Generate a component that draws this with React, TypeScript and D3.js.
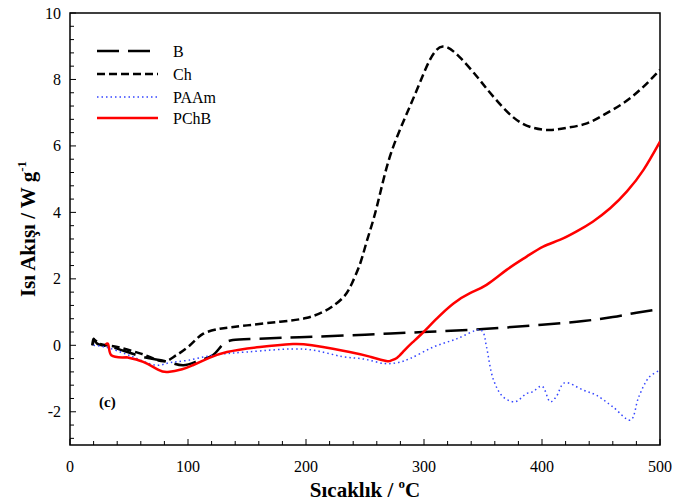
import React from "react";
import * as d3 from "d3";

const seriesNames = ["B", "Ch", "PAAm", "PChB"];

const bX = [19, 20, 23, 35, 62, 80, 96, 110, 121, 131, 138, 160, 200, 250, 299, 350, 400, 435, 460, 480, 500];
const bY = [0.0, 0.2, 0.05, -0.05, -0.35, -0.47, -0.6, -0.45, -0.3, 0.07, 0.16, 0.2, 0.25, 0.32, 0.4, 0.49, 0.62, 0.73, 0.85, 0.98, 1.09];

const chX = [19, 21, 25, 40, 60, 80, 90, 100, 113, 127, 150, 178, 200, 214, 222, 232, 239, 246, 251, 257, 263, 271, 282, 294, 305, 316, 330, 345, 356, 375, 392, 407, 422, 438, 453, 469, 485, 500];
const chY = [0.0, 0.15, 0.05, -0.05, -0.25, -0.48, -0.3, -0.05, 0.35, 0.5, 0.6, 0.71, 0.82, 1.0, 1.16, 1.46, 1.87, 2.47, 3.07, 3.77, 4.6, 5.67, 6.69, 7.69, 8.59, 8.99, 8.68, 8.08, 7.6, 6.88, 6.55, 6.48, 6.55, 6.68, 6.95, 7.29, 7.75, 8.29];

const paX = [20, 30, 50, 73, 85, 100, 121, 150, 200, 231, 250, 267, 278, 288, 308, 328, 347, 350, 353, 359, 367, 377, 387, 392, 400, 407, 412, 419, 435, 446, 460, 475, 482, 491, 500];
const paY = [0.0, -0.05, -0.3, -0.6, -0.52, -0.45, -0.3, -0.2, -0.12, -0.34, -0.42, -0.55, -0.52, -0.4, -0.05, 0.2, 0.47, 0.4, -0.05, -1.05, -1.55, -1.7, -1.45, -1.4, -1.23, -1.7, -1.55, -1.13, -1.35, -1.5, -1.85, -2.25, -1.55, -0.95, -0.75];

const pcX = [30, 32, 35, 48, 62, 75, 83, 95, 104, 118, 133, 161, 189, 205, 237, 255, 268, 272, 277, 283, 290, 297, 311, 325, 339, 353, 370, 387, 401, 415, 429, 443, 458, 472, 486, 500];
const pcY = [0.02, 0.05, -0.3, -0.36, -0.5, -0.74, -0.8, -0.72, -0.6, -0.38, -0.2, -0.05, 0.04, 0.0, -0.2, -0.35, -0.47, -0.46, -0.38, -0.17, 0.08, 0.31, 0.81, 1.26, 1.57, 1.82, 2.27, 2.67, 2.97, 3.17, 3.42, 3.72, 4.13, 4.63, 5.28, 6.13];

const xMajor = [0, 100, 200, 300, 400, 500];
const yMajor = [-2, 0, 2, 4, 6, 8, 10];

const W = 673, H = 504;
const L = 70, R = 660, T = 13, B = 445;
const FONT = "Liberation Serif, Times New Roman, serif";

export default function App() {
  const x = d3.scaleLinear().domain([0, 500]).range([L, R]);
  const y = d3.scaleLinear().domain([-3, 10]).range([B, T]);

  const mk = (xs: number[], ys: number[], curve: any, from = 0) => {
    const idx = d3.range(from, xs.length);
    return d3.line<number>().x((i) => x(xs[i])).y((i) => y(ys[i])).curve(curve)(idx) || "";
  };
  const mkPart = (xs: number[], ys: number[], a: number, b: number, curve: any) => {
    const idx = d3.range(a, b + 1);
    return d3.line<number>().x((i) => x(xs[i])).y((i) => y(ys[i])).curve(curve)(idx) || "";
  };

  const cr = d3.curveCatmullRom.alpha(0.5);
  const nat = d3.curveNatural;
  const chSplit = 9;
  const pcSplit = 3;
  const styles = [
    { d: mk(bX, bY, cr), stroke: "#000", w: 2.5, dash: "22,9" },
    {
      d: mkPart(chX, chY, 0, chSplit, cr) + mkPart(chX, chY, chSplit, chX.length - 1, nat).replace(/^M/, "L"),
      stroke: "#000", w: 2.5, dash: "8,4",
    },
    { d: mk(paX, paY, cr), stroke: "#3344ff", w: 1.5, dash: "1.5,3" },
    {
      d: mkPart(pcX, pcY, 0, pcSplit, cr) + mkPart(pcX, pcY, pcSplit, pcX.length - 1, nat).replace(/^M/, "L"),
      stroke: "#ff0000", w: 2.5, dash: "none",
    },
  ];

  const xMinor = d3.range(0, 501, 20);
  const yMinor = d3.range(-2.8, 10.01, 0.4).map((v) => Math.round(v * 10) / 10);

  return (
    <svg width={W} height={H} style={{ position: "absolute", left: 0, top: 0, background: "#fff" }}>
      <rect x={0} y={0} width={W} height={H} fill="#fff" />
      <defs>
        <clipPath id="clip">
          <rect x={L} y={T} width={R - L} height={B - T} />
        </clipPath>
      </defs>
      <rect x={L} y={T} width={R - L} height={B - T} fill="none" stroke="#000" strokeWidth={1.5} />
      {xMinor.map((v) => (
        <line key={"xt" + v} x1={x(v)} x2={x(v)} y1={B} y2={B - (v % 100 === 0 ? 6 : 4)} stroke="#000" strokeWidth={1} />
      ))}
      {yMinor.map((v) => (
        <line key={"yt" + v} x1={L} x2={L + (Math.abs(v % 2) < 1e-6 ? 6 : 4)} y1={y(v)} y2={y(v)} stroke="#000" strokeWidth={1} />
      ))}
      {xMajor.map((v) => (
        <text key={"xl" + v} x={x(v)} y={472} textAnchor="middle" fontFamily={FONT} fontSize={16}>
          {v}
        </text>
      ))}
      {yMajor.map((v) => (
        <text key={"yl" + v} x={61} y={y(v) + 5.5} textAnchor="end" fontFamily={FONT} fontSize={16}>
          {v}
        </text>
      ))}
      <g clipPath="url(#clip)">
        {styles.map((s, i) => (
          <path key={i} d={s.d} fill="none" stroke={s.stroke} strokeWidth={s.w} strokeDasharray={s.dash} strokeLinejoin="round" />
        ))}
      </g>
      {styles.map((s, i) => {
        const ly = [51, 74, 97, 118][i];
        return (
          <g key={"lg" + i}>
            <line x1={97} x2={158} y1={ly} y2={ly} stroke={s.stroke} strokeWidth={s.w} strokeDasharray={s.dash} />
            <text x={173} y={ly + 5.5} fontFamily={FONT} fontSize={16}>
              {seriesNames[i]}
            </text>
          </g>
        );
      })}
      <text x={99} y={407} fontFamily={FONT} fontSize={15} fontWeight="bold">(c)</text>
      <text x={365} y={497} textAnchor="middle" fontFamily={FONT} fontSize={21} fontWeight="bold">
        Sıcaklık / <tspan fontSize={13} dy={-9}>o</tspan><tspan dy={9}>C</tspan>
      </text>
      <text transform={`translate(35,${229}) rotate(-90)`} textAnchor="middle" fontFamily={FONT} fontSize={21} fontWeight="bold">
        Isı Akışı / W g<tspan fontSize={13} dy={-9}>-1</tspan>
      </text>
    </svg>
  );
}
